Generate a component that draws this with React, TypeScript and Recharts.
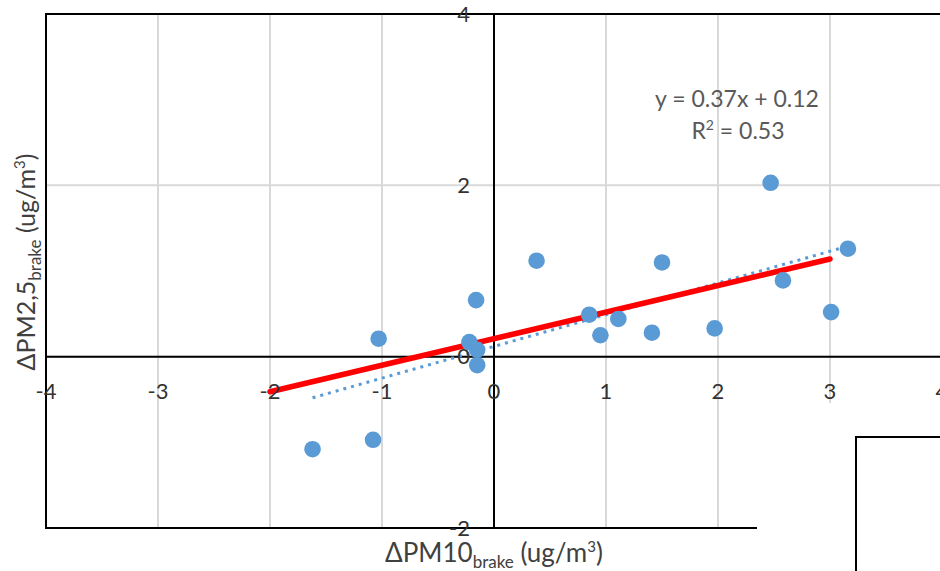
import React from 'react';
import { ScatterChart, Scatter, XAxis, YAxis, CartesianGrid, ReferenceLine, ReferenceDot, ReferenceArea } from 'recharts';

// measured points (delta PM10 brake vs delta PM2.5 brake)
const pm10Values = [-1.62, -1.08, -1.03, -0.16, -0.22, -0.15, -0.15, 0.38, 0.85, 0.95, 1.11, 1.41, 1.5, 1.97, 2.47, 2.58, 3.01, 3.16];
const pm25Values = [-1.08, -0.97, 0.21, 0.66, 0.17, 0.08, -0.1, 1.12, 0.49, 0.25, 0.44, 0.28, 1.1, 0.33, 2.03, 0.89, 0.52, 1.26];

// red fitted line and Excel dotted trendline end points
const redLineX = [-2, 3];
const redLineY = [-0.41, 1.14];
const trendX = [-1.62, 3.16];
const trendY = [-0.48, 1.29];

const xTicks = [-4, -3, -2, -1, 0, 1, 2, 3, 4];
const yTicks = [-2, 0, 2, 4];

const points = pm10Values.map((x, i) => ({ x, y: pm25Values[i] }));
const redLine = redLineX.map((x, i) => ({ x, y: redLineY[i] }));
const trendLine = trendX.map((x, i) => ({ x, y: trendY[i] }));

const BLUE = '#5B9BD5';
const TEXT = '#333333';

const tickLabel = {
    fill: TEXT,
    fontSize: 22,
};

const App: React.FC = () => {
    return (
        <div style={{ position: 'absolute', left: 0, top: 0, width: 940, height: 571, overflow: 'hidden', background: '#fff', fontFamily: 'Lato' }}>
            <ScatterChart width={960} height={571} margin={{ top: 14, right: 18, bottom: 43, left: 46 }}>
                <XAxis type="number" dataKey="x" domain={[-4, 4]} ticks={xTicks} hide />
                <YAxis type="number" dataKey="y" domain={[-2, 4]} ticks={yTicks} hide />
                <CartesianGrid stroke="#d9d9d9" strokeWidth={2} />
                <ReferenceArea x1={-4} x2={4} y1={-2} y2={4} fill="none" fillOpacity={0} stroke="#000" strokeWidth={2} />
                <ReferenceLine x={0} stroke="#000" strokeWidth={2} />
                <ReferenceLine y={0} stroke="#000" strokeWidth={2} />
                {xTicks.map((t) => (
                    <ReferenceDot key={'x' + t} x={t} y={0} r={1} fill="none" stroke="none"
                        label={{ value: String(t), position: 'bottom', offset: 26, ...tickLabel }} />
                ))}
                {yTicks.map((t) => (
                    <ReferenceDot key={'y' + t} x={0} y={t} r={1} fill="none" stroke="none"
                        label={{ value: String(t), position: 'left', offset: 23, ...tickLabel }} />
                ))}
                <Scatter data={trendLine} line={{ stroke: BLUE, strokeWidth: 3, strokeDasharray: '3 5' }}
                    shape={() => <g />} isAnimationActive={false} />
                <Scatter data={redLine} line={{ stroke: '#FF0000', strokeWidth: 5.5, strokeLinecap: 'round' }}
                    shape={() => <g />} isAnimationActive={false} />
                <Scatter data={points} fill={BLUE} isAnimationActive={false}
                    shape={(p: any) => <circle cx={p.cx} cy={p.cy} r={8.3} fill={BLUE} />} />
            </ScatterChart>

            <svg width={940} height={571} style={{ position: 'absolute', left: 0, top: 0, pointerEvents: 'none' }}>
                <g fill="#595959" fontSize={23} textAnchor="middle">
                    <text x={737} y={107}>y = 0.37x + 0.12</text>
                    <text x={738} y={139}>
                        R<tspan fontSize={14} dy={-9}>2</tspan><tspan dy={9}> = 0.53</tspan>
                    </text>
                </g>
                <text x={494} y={562} fill="#404040" fontSize={26} textAnchor="middle">
                    ΔPM10<tspan fontSize={17} dy={6}>brake</tspan>
                    <tspan dy={-6}> (ug/m</tspan><tspan fontSize={15} dy={-10}>3</tspan><tspan dy={10}>)</tspan>
                </text>
                <text transform="translate(35, 262) rotate(-90)" fill="#404040" fontSize={25} textAnchor="middle">
                    ΔPM2,5<tspan fontSize={17} dy={6}>brake</tspan>
                    <tspan dy={-6}> (ug/m</tspan><tspan fontSize={15} dy={-10}>3</tspan><tspan dy={10}>)</tspan>
                </text>
            </svg>

            <div style={{ position: 'absolute', left: 757, top: 403, width: 183, height: 168, background: '#fff' }} />
            <div style={{ position: 'absolute', left: 855, top: 436, width: 120, height: 160, border: '2px solid #000', background: '#fff' }} />
        </div>
    );
};

export default App;
